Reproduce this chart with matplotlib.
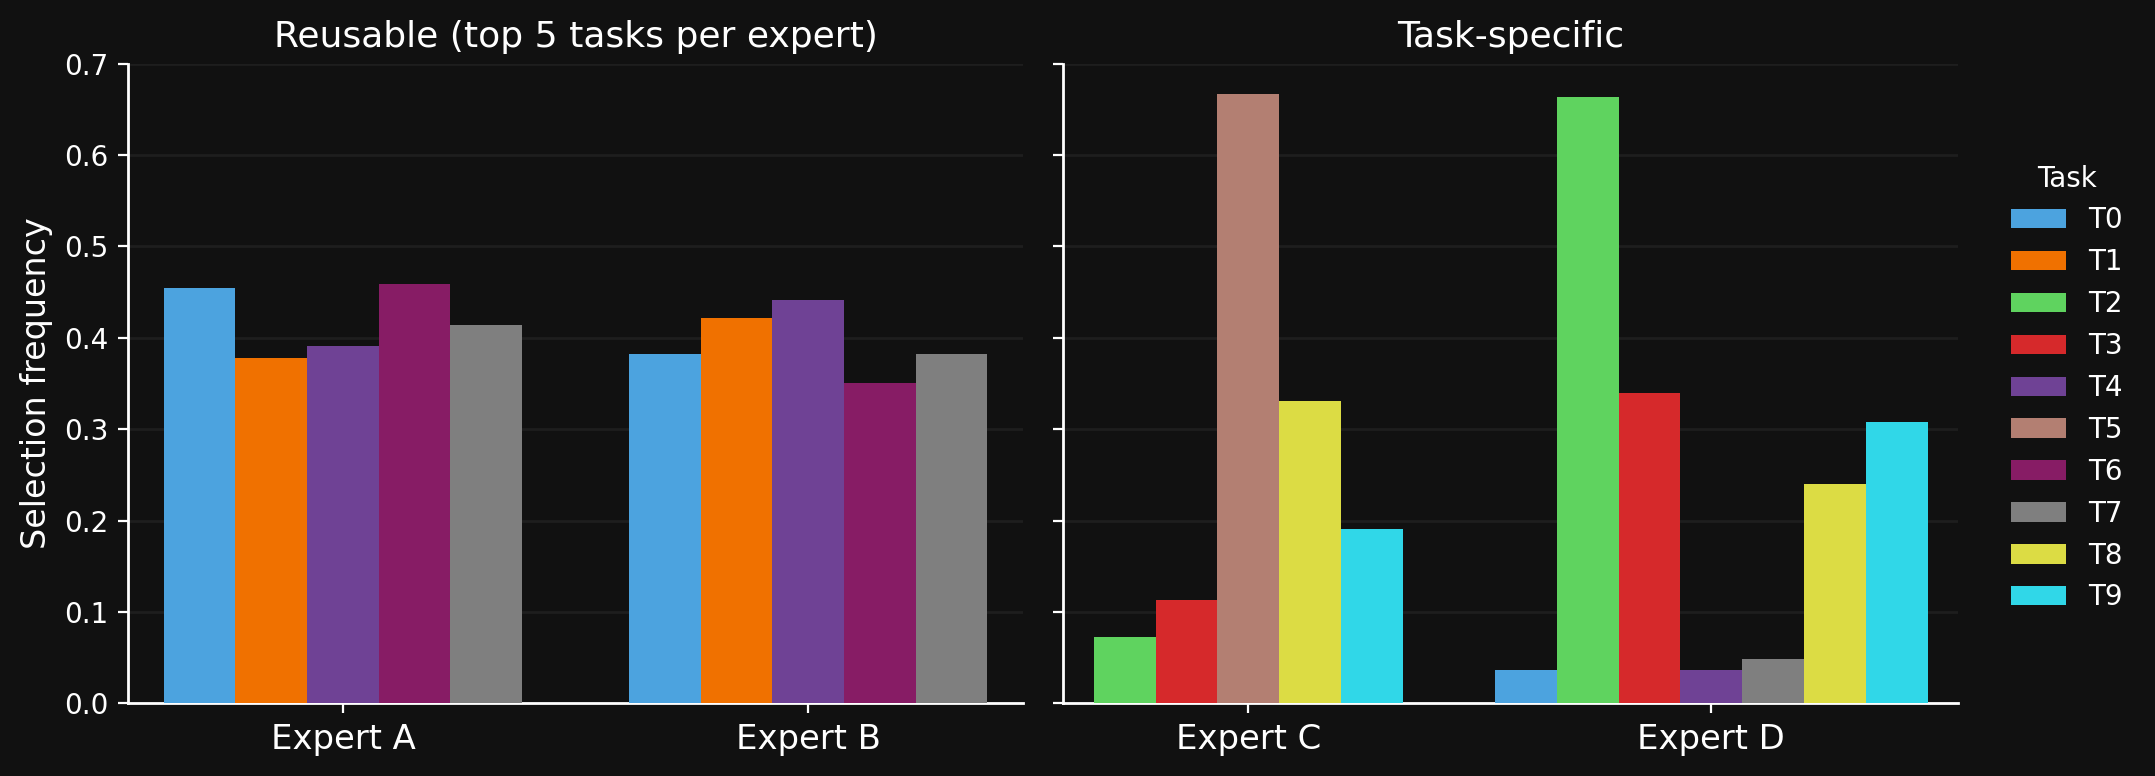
import numpy as np
import matplotlib
matplotlib.use("Agg")
import matplotlib.pyplot as plt
from matplotlib.patches import Patch

# task colours
tasks = ['T0', 'T1', 'T2', 'T3', 'T4', 'T5', 'T6', 'T7', 'T8', 'T9']
task_colors = ['#4ca3df', '#f07100', '#5fd35f', '#d6292b', '#6f4295',
               '#b37f72', '#871c65', '#7f7f7f', '#dcdc44', '#30d7e8']

# reusable experts
reusable_experts = ['Expert A', 'Expert B']
reusable_tasks = [['T0', 'T1', 'T4', 'T6', 'T7'],
                  ['T0', 'T1', 'T4', 'T6', 'T7']]
reusable_vals = [[0.454, 0.378, 0.391, 0.459, 0.414],
                 [0.382, 0.422, 0.441, 0.350, 0.382]]

# task-specific experts
specific_experts = ['Expert C', 'Expert D']
specific_tasks = [['T2', 'T3', 'T5', 'T8', 'T9'],
                  ['T0', 'T2', 'T3', 'T4', 'T7', 'T8', 'T9']]
specific_vals = [[0.072, 0.113, 0.667, 0.331, 0.191],
                 [0.036, 0.663, 0.340, 0.036, 0.049, 0.240, 0.308]]

BG = '#111111'
FG = '#ffffff'
GRID = '#1e1e1e'

color_of = dict(zip(tasks, task_colors))


def draw_panel(ax, experts, task_lists, vals, width):
    for i, (tl, vl) in enumerate(zip(task_lists, vals)):
        n = len(tl)
        for j, (t, v) in enumerate(zip(tl, vl)):
            x = i + (j - (n - 1) / 2) * width
            ax.bar(x, v, width=width, color=color_of[t], linewidth=0, zorder=3)
    ax.set_xticks(range(len(experts)))
    ax.set_xticklabels(experts, fontsize=12.2, color=FG)
    ax.set_facecolor(BG)
    for s in ['top', 'right']:
        ax.spines[s].set_visible(False)
    for s in ['left', 'bottom']:
        ax.spines[s].set_color(FG)
        ax.spines[s].set_linewidth(1.0)
    ax.tick_params(axis='y', colors=FG, labelsize=10)
    ax.tick_params(axis='x', colors=FG)
    ax.yaxis.grid(True, color=GRID, linewidth=1.0, zorder=0)
    ax.set_axisbelow(True)
    ax.set_ylim(0, 0.7)
    ax.set_yticks(np.arange(0, 0.71, 0.1))


fig = plt.figure(figsize=(10.775, 3.88), dpi=200, facecolor=BG)
ax1 = fig.add_axes([0.0594, 0.0937, 0.4153, 0.8243])
ax2 = fig.add_axes([0.4933, 0.0937, 0.4153, 0.8243], sharey=ax1)

draw_panel(ax1, reusable_experts, reusable_tasks, reusable_vals, 0.154)
draw_panel(ax2, specific_experts, specific_tasks, specific_vals, 0.1335)

ax1.set_xlim(-0.462, 1.462)
ax2.set_xlim(-0.400, 1.533)
ax1.set_yticklabels([f'{v:.1f}' for v in np.arange(0, 0.71, 0.1)])
ax2.tick_params(labelleft=False)

ax1.set_ylabel('Selection frequency', fontsize=12, color=FG)
ax1.set_title('Reusable (top 5 tasks per expert)', fontsize=13, color=FG)
ax2.set_title('Task-specific', fontsize=13, color=FG)

handles = [Patch(facecolor=c, edgecolor='none', label=t) for t, c in zip(tasks, task_colors)]
leg = fig.legend(handles=handles, title='Task', loc='center left',
                 bbox_to_anchor=(0.9215, 0.5), frameon=False, fontsize=10,
                 title_fontsize=10, labelcolor=FG, labelspacing=0.5)
leg.get_title().set_color(FG)

fig.savefig('out.png', dpi=200, facecolor=BG)
